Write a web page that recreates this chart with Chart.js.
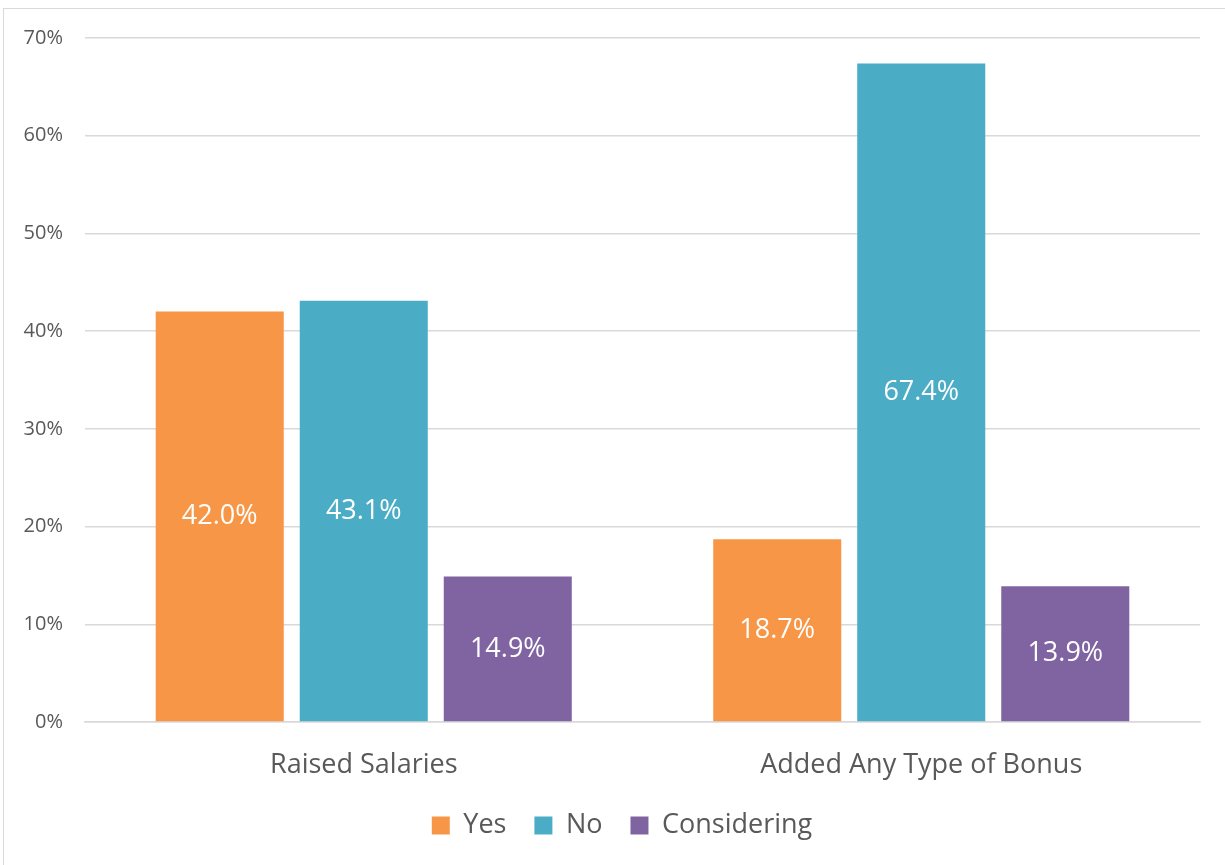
<!DOCTYPE html>
<html>
<head>
<meta charset="utf-8">
<script src="https://cdn.jsdelivr.net/npm/chart.js@4.4.0/dist/chart.umd.min.js"></script>
<style>
  html,body{margin:0;padding:0;background:#fff;overflow:hidden;}
  #wrap{position:relative;width:1225px;height:865px;}
  #frame{position:absolute;left:3px;top:8px;width:1240px;height:880px;border:1.5px solid #d9d9d9;box-sizing:border-box;}
  canvas{position:absolute;left:0;top:0;}
</style>
</head>
<body>
<div id="wrap">
  <div id="frame"></div>
  <canvas id="c" width="1225" height="865"></canvas>
</div>
<script>
const categories = ["Raised Salaries", "Added Any Type of Bonus"];
const seriesNames = ["Yes", "No", "Considering"];
const yesValues = [42.0, 18.7];
const noValues = [43.1, 67.4];
const consideringValues = [14.9, 13.9];
const seriesColors = ["#F79646", "#4BACC6", "#8064A2"];
const yTicks = [0, 10, 20, 30, 40, 50, 60, 70];

const FONT = "'Open Sans', 'DejaVu Sans', sans-serif";

const labelPlugin = {
  id: 'barLabels',
  afterDatasetsDraw(chart) {
    const ctx = chart.ctx;
    ctx.save();
    ctx.fillStyle = '#ffffff';
    ctx.font = "27px " + FONT;
    ctx.textAlign = 'center';
    ctx.textBaseline = 'middle';
    chart.data.datasets.forEach((ds, di) => {
      const meta = chart.getDatasetMeta(di);
      meta.data.forEach((bar, i) => {
        const v = ds.data[i];
        const y = (bar.y + bar.base) / 2;
        ctx.fillText(v.toFixed(1) + '%', bar.x, y);
      });
    });
    ctx.restore();
  }
};

const legendShift = {
  id: 'legendShift',
  afterLayout(chart) {
    if (chart.legend) {
      chart.legend.left += 22;
      chart.legend.right += 22;
    }
  }
};

new Chart(document.getElementById('c'), {
  type: 'bar',
  data: {
    labels: categories,
    datasets: [
      { label: seriesNames[0], data: yesValues, backgroundColor: seriesColors[0] },
      { label: seriesNames[1], data: noValues, backgroundColor: seriesColors[1] },
      { label: seriesNames[2], data: consideringValues, backgroundColor: seriesColors[2] }
    ]
  },
  options: {
    responsive: false,
    animation: false,
    devicePixelRatio: 1,
    layout: { padding: { top: 38, right: 25, bottom: 16, left: 0 } },
    datasets: { bar: { barPercentage: 0.889, categoryPercentage: 0.775 } },
    plugins: {
      legend: {
        position: 'bottom',
        labels: {
          boxWidth: 18, boxHeight: 18, padding: 28,
          color: '#595959',
          font: { family: FONT, size: 27 }
        }
      },
      tooltip: { enabled: false }
    },
    scales: {
      x: {
        afterFit(scale) { scale.height = 62; },
        grid: { display: false, drawTicks: false },
        border: { display: true, color: '#d9d9d9', width: 1.5 },
        ticks: { color: '#595959', font: { family: FONT, size: 27 }, padding: 27 }
      },
      y: {
        min: 0, max: 70,
        afterFit(scale) { scale.width = 85; },
        afterBuildTicks(scale) { scale.ticks = yTicks.map(v => ({ value: v })); },
        grid: { color: '#d9d9d9', lineWidth: 1.5, drawTicks: false },
        border: { display: false },
        ticks: {
          color: '#595959', font: { family: FONT, size: 20 }, padding: 22,
          callback: v => v + '%'
        }
      }
    }
  },
  plugins: [labelPlugin, legendShift]
});
</script>
</body>
</html>
